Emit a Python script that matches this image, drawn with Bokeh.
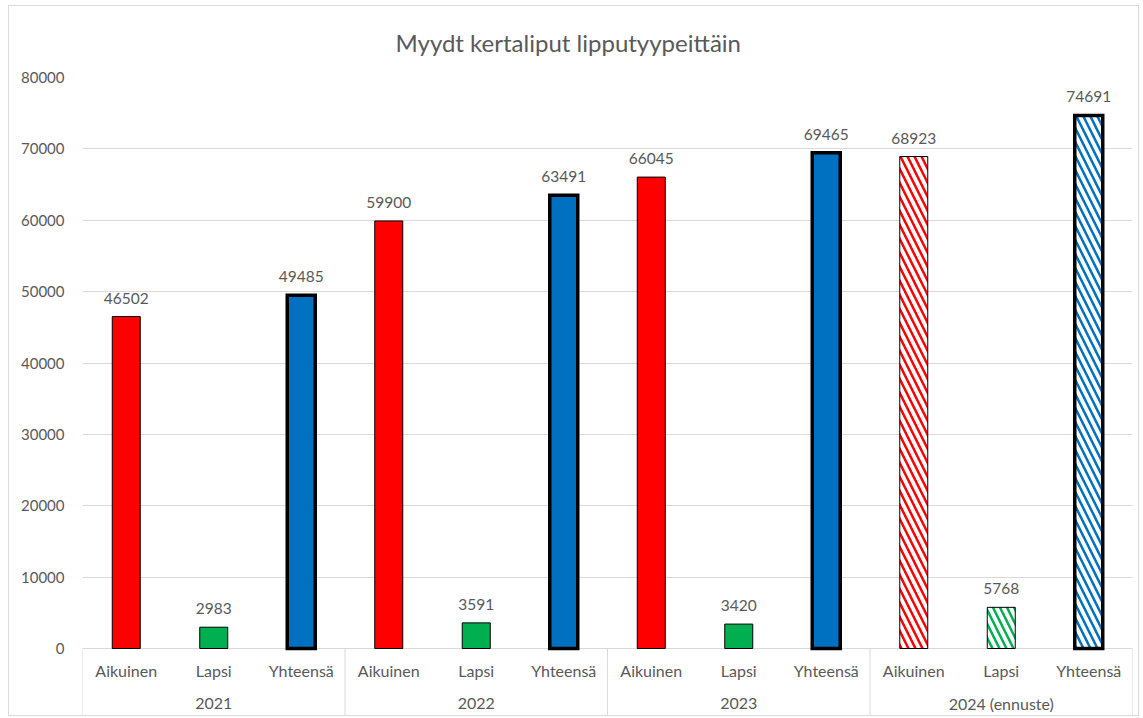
from bokeh.plotting import figure
from bokeh.models import FactorRange, ColumnDataSource, FixedTicker, NumeralTickFormatter
from bokeh.core.properties import value
from bokeh.embed import file_html
from bokeh.resources import INLINE

years = ["2021", "2022", "2023", "2024 (ennuste)"]
types = ["Aikuinen", "Lapsi", "Yhteensä"]
aikuinen = [46502, 59900, 66045, 68923]
lapsi = [2983, 3591, 3420, 5768]
yhteensa = [49485, 63491, 69465, 74691]
forecast_year = "2024 (ennuste)"

type_colors = {"Aikuinen": "#FF0000", "Lapsi": "#00B050", "Yhteensä": "#0070C0"}
type_line = {"Aikuinen": 1, "Lapsi": 1, "Yhteensä": 3.5}

FONT = "Lato"
TXT = "#595959"

x, vals, fills, hcols, hpats, lws, labels = [], [], [], [], [], [], []
for i, y in enumerate(years):
    for t, series in zip(types, [aikuinen, lapsi, yhteensa]):
        x.append((y, t))
        v = series[i]
        vals.append(v)
        labels.append(str(v))
        if y == forecast_year:
            fills.append("white")
            hpats.append("\\")
        else:
            fills.append(type_colors[t])
            hpats.append(" ")
        hcols.append(type_colors[t])
        lws.append(type_line[t])

src = ColumnDataSource(dict(x=x, v=vals, fill=fills, hcol=hcols, hpat=hpats, lw=lws, lab=labels))

p = figure(x_range=FactorRange(*x, factor_padding=0, group_padding=0, range_padding=0),
           y_range=(-9527, 80000), width=1131, height=711,
           output_backend="svg", toolbar_location=None,
           min_border_left=73, min_border_right=8, min_border_top=71, min_border_bottom=1)
p.styles = {"border": "1px solid #d9d9d9", "margin-left": "8px", "margin-top": "5px"}
p.outline_line_color = None
p.title.text = "Myydt kertaliput lipputyypeittäin"
p.title.align = "left"
p.title.vertical_align = "top"
p.title.offset = 313
p.title.standoff = 38
p.title.text_font = FONT
p.title.text_font_size = "24px"
p.title.text_font_style = "normal"
p.title.text_color = TXT

p.vbar(x="x", top="v", width=0.32, source=src, fill_color="fill", line_color="black",
       line_width="lw", hatch_pattern="hpat", hatch_color="hcol", hatch_scale=14, hatch_weight=2.5,
       line_join="miter")

p.text(x="x", y="v", text="lab", source=src, text_align="center", text_baseline="bottom",
       y_offset=-13, text_font=value(FONT), text_font_size="15.5px", text_color=TXT)

# category axis drawn inside the extended frame
p.xaxis.visible = False
p.xgrid.grid_line_color = None
p.ygrid.grid_line_color = "#d9d9d9"
p.ygrid.ticker = FixedTicker(ticks=list(range(0, 80001, 10000)))
p.yaxis.ticker = FixedTicker(ticks=list(range(0, 80001, 10000)))
p.yaxis.formatter = NumeralTickFormatter(format="0")
p.yaxis.axis_line_color = None
p.yaxis.major_tick_line_color = None
p.yaxis.minor_tick_line_color = None
p.yaxis.major_label_standoff = 12
p.yaxis.major_label_text_font = FONT
p.yaxis.major_label_text_font_size = "15px"
p.yaxis.major_label_text_color = TXT

p.text(x=x, y=[-3082] * len(x), text=[t for _, t in x], text_align="center",
       text_baseline="middle", text_font=value(FONT), text_font_size="16px", text_color=TXT)
p.text(x=years, y=[-7706] * len(years), text=years, text_align="center",
       text_baseline="middle", text_font=value(FONT), text_font_size="16px", text_color=TXT)

sep_x = [(y, types[0], -0.5) for y in years] + [(years[-1], types[-1], 0.5)]
p.segment(x0=sep_x, x1=sep_x, y0=[0] * len(sep_x), y1=[-10000] * len(sep_x),
          line_color="#d9d9d9", line_width=1)

open("out.html", "w").write(file_html(p, INLINE))
